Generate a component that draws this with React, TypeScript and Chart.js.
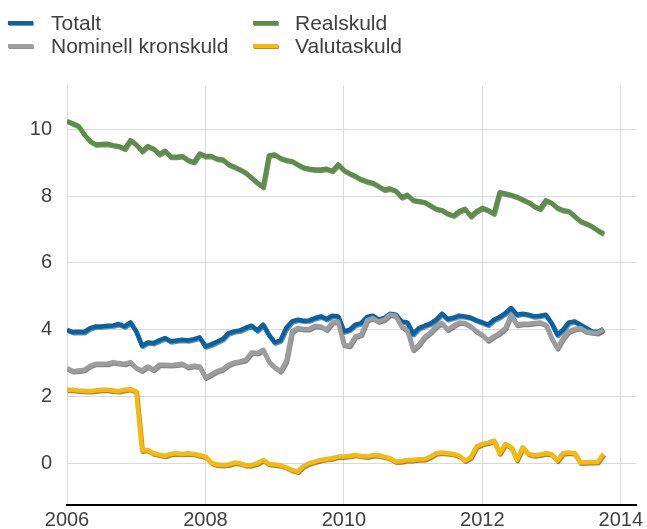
import React, { useEffect, useRef } from "react";
import { Chart, registerables } from "chart.js";

Chart.register(...registerables);

const START_YEAR = 2006;
const X_TICKS = [2006, 2008, 2010, 2012, 2014];
const Y_TICKS = [0, 2, 4, 6, 8, 10];
const SERIES_NAMES = ["Totalt", "Nominell kronskuld", "Realskuld", "Valutaskuld"];
const SERIES_COLORS = ["#0563a8", "#9d9d9d", "#5a8f45", "#fbb900"];

const totalt = [
  4.0, 3.93, 3.94, 3.93, 4.05, 4.1, 4.1, 4.12, 4.13, 4.17, 4.1, 4.22,
  3.95, 3.52, 3.62, 3.6, 3.68, 3.75, 3.65, 3.68, 3.7, 3.68, 3.72, 3.77,
  3.5, 3.56, 3.64, 3.72, 3.9, 3.95, 3.98, 4.06, 4.12, 3.98, 4.15, 3.85,
  3.62, 3.68, 4.05, 4.25, 4.3, 4.27, 4.28, 4.35, 4.4, 4.32, 4.42, 4.4,
  3.95, 4.0, 4.15, 4.2, 4.38, 4.42, 4.3, 4.35, 4.48, 4.45, 4.25, 4.22,
  3.87, 4.05, 4.12, 4.18, 4.3, 4.48, 4.32, 4.36, 4.42, 4.4, 4.36, 4.28,
  4.22, 4.15, 4.3, 4.38, 4.5, 4.65, 4.45, 4.48, 4.45, 4.4, 4.42, 4.45,
  4.2, 3.85, 4.0, 4.22, 4.25, 4.15, 4.05, 3.95, 3.93, 4.02,
];

const nominell = [
  2.85, 2.76, 2.78, 2.8, 2.92, 2.98, 2.98, 2.98, 3.03, 3.0, 2.98, 3.03,
  2.86, 2.78, 2.9, 2.8, 2.95, 2.95, 2.94, 2.96, 2.98, 2.88, 2.92, 2.9,
  2.57, 2.66, 2.76, 2.82, 2.95, 3.02, 3.05, 3.1, 3.32, 3.3, 3.4, 3.05,
  2.88, 2.76, 3.05, 3.95, 4.05, 4.02, 4.02, 4.12, 4.1, 4.0, 4.22, 4.25,
  3.55, 3.52, 3.8, 3.85, 4.28, 4.35, 4.25, 4.3, 4.45, 4.42, 4.1, 3.98,
  3.4, 3.55, 3.78, 3.92, 4.1, 4.2, 4.0, 4.12, 4.22, 4.2, 4.1, 3.95,
  3.85, 3.68, 3.8, 3.9, 4.05, 4.45, 4.15, 4.18, 4.18, 4.2, 4.22, 4.15,
  3.75, 3.45, 3.75, 3.95, 4.02, 4.05, 3.95, 3.92, 3.9, 4.0,
];

const realskuld = [
  10.25, 10.18, 10.1, 9.85, 9.65, 9.55, 9.56, 9.57, 9.53, 9.5, 9.42, 9.68,
  9.55, 9.35, 9.5, 9.42, 9.26, 9.36, 9.18, 9.18, 9.2, 9.08, 9.02, 9.28,
  9.2, 9.2, 9.12, 9.1, 8.95, 8.88, 8.8, 8.7, 8.55, 8.4, 8.28, 9.22,
  9.25, 9.14, 9.08, 9.05, 8.95, 8.86, 8.82, 8.8, 8.8, 8.82, 8.76, 8.95,
  8.78, 8.68, 8.6, 8.5, 8.44, 8.4, 8.3, 8.2, 8.23, 8.16, 7.97, 8.04,
  7.88, 7.85, 7.82, 7.72, 7.62, 7.58, 7.48, 7.42, 7.55, 7.62, 7.4, 7.55,
  7.65, 7.58, 7.48, 8.12, 8.08, 8.04, 7.98, 7.9, 7.82, 7.7, 7.62, 7.88,
  7.8, 7.65, 7.58, 7.55, 7.4, 7.25, 7.18, 7.1, 6.98, 6.88,
];

const valutaskuld = [
  2.2, 2.2, 2.18, 2.17, 2.16, 2.18, 2.2, 2.2, 2.18, 2.16, 2.2, 2.22,
  2.15, 0.38, 0.4, 0.3, 0.26, 0.22, 0.28, 0.3, 0.28, 0.3, 0.28, 0.24,
  0.2, 0.02, -0.04, -0.05, -0.04, 0.02, 0.0, -0.06, -0.05, 0.0, 0.1, -0.02,
  -0.04, -0.06, -0.12, -0.2, -0.25, -0.08, 0.0, 0.05, 0.1, 0.13, 0.15, 0.2,
  0.2, 0.22, 0.25, 0.22, 0.2, 0.24, 0.24, 0.2, 0.15, 0.05, 0.06, 0.1,
  0.1, 0.12, 0.12, 0.2, 0.3, 0.32, 0.3, 0.28, 0.22, 0.08, 0.18, 0.5,
  0.58, 0.62, 0.68, 0.3, 0.58, 0.48, 0.1, 0.48, 0.28, 0.24, 0.26, 0.3,
  0.28, 0.08, 0.3, 0.32, 0.3, 0.02, 0.03, 0.04, 0.04, 0.28,
];

const SERIES_VALUES = [totalt, nominell, realskuld, valutaskuld];

const FONT = "'Liberation Sans', Arial, Helvetica, sans-serif";
const TEXT = "#404040";

const shadowPlugin = {
  id: "lineShadow",
  beforeDatasetDraw(chart: any) {
    const ctx = chart.ctx;
    ctx.save();
    ctx.shadowColor = "rgba(70,70,70,0.65)";
    ctx.shadowOffsetX = 0.8;
    ctx.shadowOffsetY = 1.2;
    ctx.shadowBlur = 0.5;
  },
  afterDatasetDraw(chart: any) {
    chart.ctx.restore();
  },
};

export default function App() {
  const ref = useRef<HTMLCanvasElement | null>(null);

  useEffect(() => {
    if (!ref.current) return;
    const datasets = SERIES_NAMES.map((name, k) => ({
      label: name,
      data: SERIES_VALUES[k].map((v, i) => ({ x: START_YEAR + i / 12, y: v })),
      borderColor: SERIES_COLORS[k],
      backgroundColor: SERIES_COLORS[k],
      borderWidth: 4.5,
      pointRadius: 0,
      tension: 0,
      borderJoinStyle: "round" as const,
      order: SERIES_NAMES.length - k,
    }));
    const chart = new Chart(ref.current, {
      type: "line",
      data: { datasets },
      plugins: [shadowPlugin],
      options: {
        animation: false,
        responsive: false,
        devicePixelRatio: 1,
        layout: { padding: { left: 0, top: 86, right: 11, bottom: 0 } },
        plugins: { legend: { display: false }, tooltip: { enabled: false } },
        scales: {
          x: {
            type: "linear",
            min: 2006,
            max: 2014.22,
            afterBuildTicks: (s: any) => {
              s.ticks = X_TICKS.map((v) => ({ value: v }));
            },
            afterFit: (s: any) => {
              s.height = 24;
            },
            grid: { color: "#d9d9d9", lineWidth: 1, drawTicks: false },
            border: { display: true, color: "#000000", width: 2 },
            ticks: {
              padding: 3,
              maxRotation: 0,
              autoSkip: false,
              color: TEXT,
              font: { family: FONT, size: 20 },
              callback: (v: any) => String(v),
            },
          },
          y: {
            type: "linear",
            min: -1.25,
            max: 11.3,
            afterBuildTicks: (s: any) => {
              s.ticks = Y_TICKS.map((v) => ({ value: v }));
            },
            afterFit: (s: any) => {
              s.width = 67;
              s.paddingTop = 0;
              s.paddingBottom = 0;
            },
            grid: { color: "#d9d9d9", lineWidth: 1, drawTicks: false },
            border: { display: false },
            ticks: {
              padding: 15,
              color: TEXT,
              font: { family: FONT, size: 20 },
              callback: (v: any) => String(v),
            },
          },
        },
      },
    });
    return () => chart.destroy();
  }, []);

  const legendPos = [
    { mx: 8, tx: 51, row: 0 },
    { mx: 8, tx: 51, row: 1 },
    { mx: 253, tx: 295, row: 0 },
    { mx: 253, tx: 295, row: 1 },
  ];

  return (
    <div style={{ position: "absolute", left: 0, top: 0, width: 647, height: 529, background: "#fff" }}>
      <canvas ref={ref} width={647} height={529} style={{ position: "absolute", left: 0, top: 0, width: 647, height: 529 }} />
      {SERIES_NAMES.map((name, k) => {
        const p = legendPos[k];
        const top = p.row === 0 ? 12 : 35;
        const mTop = p.row === 0 ? 20.5 : 44;
        return (
          <React.Fragment key={name}>
            <div
              style={{
                position: "absolute",
                left: p.mx,
                top: mTop,
                width: 25,
                height: 4,
                background: SERIES_COLORS[k],
                boxShadow: "0.8px 1px 0 rgba(70,70,70,0.6)",
              }}
            />
            <div
              style={{
                position: "absolute",
                left: p.tx,
                top,
                fontFamily: FONT,
                fontSize: 21,
                lineHeight: "21px",
                color: TEXT,
                whiteSpace: "nowrap",
              }}
            >
              {name}
            </div>
          </React.Fragment>
        );
      })}
    </div>
  );
}
